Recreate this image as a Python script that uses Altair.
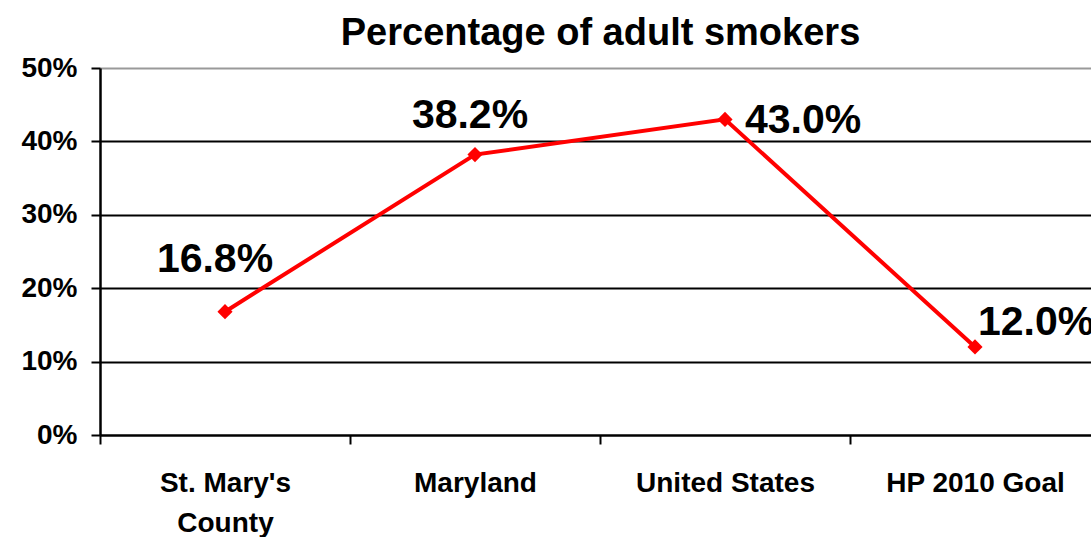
import altair as alt
import pandas as pd

categories = ["St. Mary's County", "Maryland", "United States", "HP 2010 Goal"]
values = [16.8, 38.2, 43.0, 12.0]
labels = ["16.8%", "38.2%", "43.0%", "12.0%"]

df = pd.DataFrame({"cat": categories, "val": values, "lab": labels})

FONT = "Liberation Sans"

x = alt.X(
    "cat:N",
    sort=categories,
    scale=alt.Scale(type="band", range=[0, 1000], paddingInner=0, paddingOuter=0),
    axis=alt.Axis(
        title=None,
        labelAngle=0,
        labelFont=FONT,
        labelFontSize=28,
        labelFontWeight="bold",
        labelColor="black",
        labelPadding=25,
        labelLineHeight=40,
        labelExpr="datum.value == \"St. Mary's County\" ? [\"St. Mary's\", 'County'] : datum.value",
        tickBand="extent",
        tickSize=9,
        tickWidth=2,
        tickColor="black",
        domainColor="black",
        domainWidth=2,
        grid=False,
    ),
)
y = alt.Y(
    "val:Q",
    scale=alt.Scale(domain=[0, 50], nice=False),
    axis=alt.Axis(
        title=None,
        values=[0, 10, 20, 30, 40, 50],
        labelExpr="datum.value + '%'",
        labelFont=FONT,
        labelFontSize=28,
        labelFontWeight="bold",
        labelColor="black",
        labelPadding=14,
        tickSize=9,
        tickWidth=2,
        tickColor="black",
        domainColor="black",
        domainWidth=2.5,
        grid=True,
        gridColor={"condition": {"test": "datum.value === 50", "value": "#999999"}, "value": "black"},
        gridWidth=2,
    ),
)

base = alt.Chart(df)
line = base.mark_line(color="#ff0000", strokeWidth=4).encode(x=x, y=y)
pts = base.mark_point(shape="diamond", filled=True, color="#ff0000", size=230, opacity=1).encode(x=x, y=y)

def lab(cat, align, dx, dy):
    return base.transform_filter(alt.datum.cat == cat).mark_text(
        font=FONT, fontSize=41, fontWeight="bold", color="black",
        align=align, baseline="alphabetic", dx=dx, dy=dy,
    ).encode(x=x, y=y, text="lab:N")

texts = [
    lab(categories[0], "center", -10, -40),
    lab(categories[1], "center", -5, -27),
    lab(categories[2], "left", 20, 14),
    lab(categories[3], "left", 3, -12),
]

chart = alt.layer(line, pts, *texts).properties(
    width=991,
    height=367,
    title=alt.TitleParams(
        "Percentage of adult smokers",
        font=FONT, fontSize=38, fontWeight="bold", color="black",
        anchor="middle", offset=1, dx=5,
    ),
    padding={"left": 100, "top": 68, "right": 0, "bottom": 102},
    autosize=alt.AutoSizeParams(type="none"),
).configure_view(stroke=None).configure(background="white")

chart.save("out.html", embed_options={"renderer": "svg", "actions": False})
